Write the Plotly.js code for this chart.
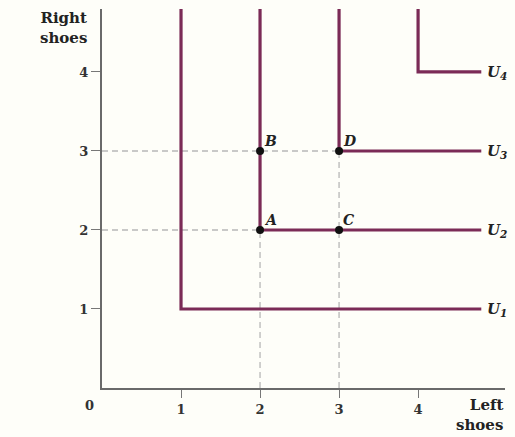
<!DOCTYPE html>
<html>
<head>
<meta charset="utf-8">
<script src="https://cdn.plot.ly/plotly-3.0.1.min.js"></script>
<style>
html,body{margin:0;padding:0;background:#fefef9;}
#chart{width:515px;height:437px;}
</style>
</head>
<body>
<div id="chart"></div>
<script>
// Indifference curve corner points (perfect complements)
const curveLevels = [1, 2, 3, 4];
const curveLabels = ["U<sub>1</sub>", "U<sub>2</sub>", "U<sub>3</sub>", "U<sub>4</sub>"];
const curveTop = 4.8;   // vertical arms extend to this y
const curveRight = 4.8; // horizontal arms extend to this x

// Bundles
const pointNames = ["A", "B", "C", "D"];
const pointX = [2, 2, 3, 3];
const pointY = [2, 3, 2, 3];

// Bundles with dashed guide lines to the axes
const guidePoints = ["A", "D"];

const xTicks = [1, 2, 3, 4];
const yTicks = [1, 2, 3, 4];

const curveColor = "#7b2b57";
const serif = "DejaVu Serif, Liberation Serif, serif";

const traces = [];

// Dashed guides
guidePoints.forEach(n => {
  const i = pointNames.indexOf(n);
  traces.push({x: [0, pointX[i]], y: [pointY[i], pointY[i]], mode: "lines",
    line: {color: "#b8b8b8", width: 1.3, dash: "6px,4px"}, hoverinfo: "skip", showlegend: false});
  traces.push({x: [pointX[i], pointX[i]], y: [0, pointY[i]], mode: "lines",
    line: {color: "#b8b8b8", width: 1.3, dash: "6px,4px"}, hoverinfo: "skip", showlegend: false});
});

// Indifference curves
curveLevels.forEach(k => {
  traces.push({x: [k, k, curveRight], y: [curveTop, k, k], mode: "lines",
    line: {color: curveColor, width: 3.2}, hoverinfo: "skip", showlegend: false, cliponaxis: false});
});

// Points
traces.push({x: pointX, y: pointY, mode: "markers",
  marker: {color: "#111", size: 8}, hoverinfo: "skip", showlegend: false, cliponaxis: false});

const annotations = [];
pointNames.forEach((n, i) => {
  annotations.push({x: pointX[i], y: pointY[i], text: "<i>" + n + "</i>", showarrow: false,
    xanchor: "left", yanchor: "bottom", xshift: 2, yshift: 0,
    font: {family: serif, size: 14, color: "#222", weight: "bold"}});
});
curveLevels.forEach((k, i) => {
  annotations.push({x: curveRight, y: k, text: "<i>" + curveLabels[i] + "</i>", showarrow: false,
    xanchor: "left", yanchor: "middle", xshift: 4, yshift: -1,
    font: {family: serif, size: 15, color: "#222", weight: "bold"}});
});
annotations.push({xref: "paper", yref: "paper", x: -0.095, y: 1.0, xanchor: "center", yanchor: "top",
  yshift: 2, text: "Right<br>shoes", showarrow: false, align: "center",
  font: {family: serif, size: 15, color: "#222", weight: "bold"}});
annotations.push({xref: "paper", yref: "paper", x: 1.0, y: 0, xanchor: "right", yanchor: "top",
  xshift: 0, yshift: -6, text: "Left<br>shoes", showarrow: false, align: "right",
  font: {family: serif, size: 15, color: "#222", weight: "bold"}});
annotations.push({x: 0, y: 0, text: "0", showarrow: false, xanchor: "center", yanchor: "middle",
  xshift: -13, yshift: -17, font: {family: serif, size: 13, color: "#333", weight: "bold"}});

const layout = {
  width: 515, height: 437,
  margin: {l: 102, r: 10, t: 9, b: 49},
  paper_bgcolor: "#fefef9", plot_bgcolor: "#fefef9",
  showlegend: false,
  xaxis: {range: [0, 5.1], tickvals: xTicks, ticktext: xTicks.map(String),
    showgrid: false, zeroline: false, showline: true, linecolor: "#6a6a6a", linewidth: 2,
    ticks: "outside", ticklen: 8, tickcolor: "#777", tickwidth: 1,
    tickfont: {family: serif, size: 13, color: "#333", weight: "bold"}, fixedrange: true},
  yaxis: {range: [0, 4.797], tickvals: yTicks, ticktext: yTicks.map(String),
    showgrid: false, zeroline: false, showline: true, linecolor: "#6a6a6a", linewidth: 2,
    ticks: "outside", ticklen: 9, tickcolor: "#777", tickwidth: 1,
    tickfont: {family: serif, size: 13, color: "#333", weight: "bold"}, fixedrange: true},
  annotations: annotations
};

Plotly.newPlot("chart", traces, layout, {displayModeBar: false, staticPlot: true});
</script>
</body>
</html>
